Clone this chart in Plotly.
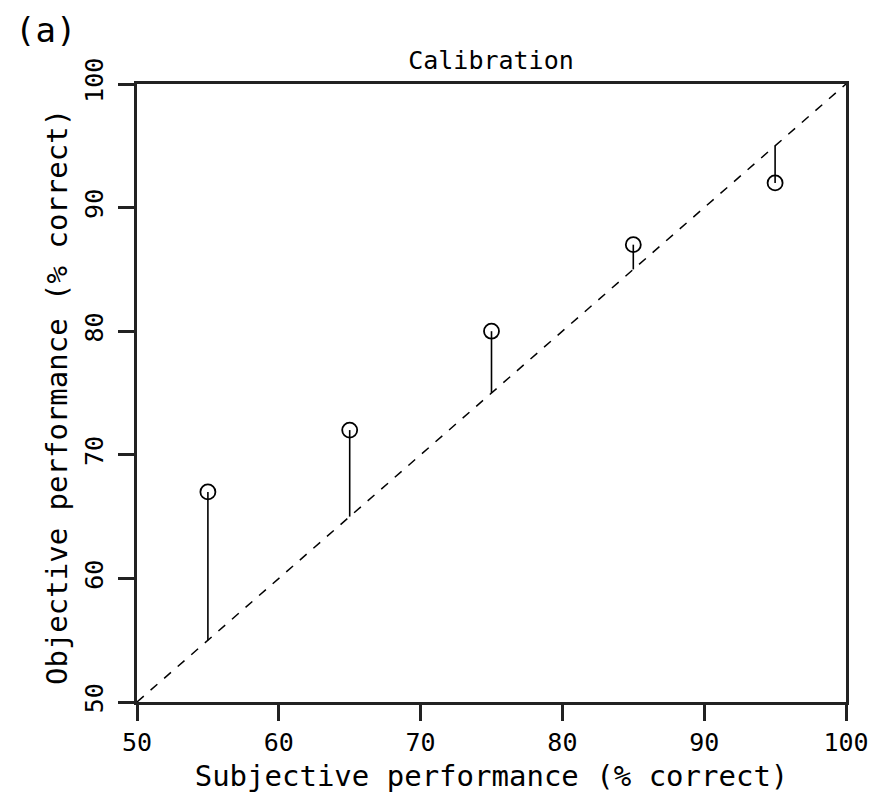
import plotly.graph_objects as go

subjective = [55, 65, 75, 85, 95]
objective = [67, 72, 80, 87, 92]
tick_vals = [50, 60, 70, 80, 90, 100]
tick_text = ["50", "60", "70", "80", "90", "100"]

FONT = "DejaVu Sans Mono"
fig = go.Figure()

# diagonal
fig.add_trace(go.Scatter(x=[50, 100], y=[50, 100], mode="lines",
                         line=dict(color="black", width=1.5, dash="dash"),
                         hoverinfo="skip", showlegend=False))
# vertical residual segments
for xs, ys in zip(subjective, objective):
    fig.add_trace(go.Scatter(x=[xs, xs], y=[xs, ys], mode="lines",
                             line=dict(color="black", width=1.6),
                             hoverinfo="skip", showlegend=False))
# points
fig.add_trace(go.Scatter(x=subjective, y=objective, mode="markers",
                         marker=dict(symbol="circle-open", size=15, color="black",
                                     line=dict(width=1.8)),
                         showlegend=False))

axis_common = dict(range=[50, 100], tickvals=tick_vals, ticktext=tick_text,
                   showgrid=False, zeroline=False, showline=True,
                   linecolor="#222", linewidth=2.5, mirror=True,
                   ticks="outside", ticklen=16, tickwidth=2.5, tickcolor="#222",
                   tickfont=dict(family=FONT, size=25, color="black"))

fig.update_layout(
    width=869, height=793,
    margin=dict(l=129, r=31, t=76, b=99, autoexpand=False),
    plot_bgcolor="white", paper_bgcolor="white",
    xaxis=dict(**axis_common,
               title=dict(text="Subjective performance (% correct)",
                          font=dict(family=FONT, size=29, color="black"),
                          standoff=10)),
    yaxis=dict(**axis_common, tickangle=-90, ticklabelstandoff=5),
    title=dict(text="Calibration", x=0.5558, xanchor="center", y=0.9344, yanchor="middle",
               font=dict(family=FONT, size=25, color="black")),
    annotations=[
        dict(text="(a)", xref="paper", yref="paper", x=-0.1749, y=1.0874,
             xanchor="left", yanchor="middle", showarrow=False,
             font=dict(family=FONT, size=34, color="black")),
        dict(text="Objective performance (% correct)", xref="paper", yref="paper",
             x=-0.1128, y=0.4935, xanchor="center", yanchor="middle", textangle=-90,
             showarrow=False, font=dict(family=FONT, size=29, color="black")),
    ],
)

fig.write_html("out.html")
